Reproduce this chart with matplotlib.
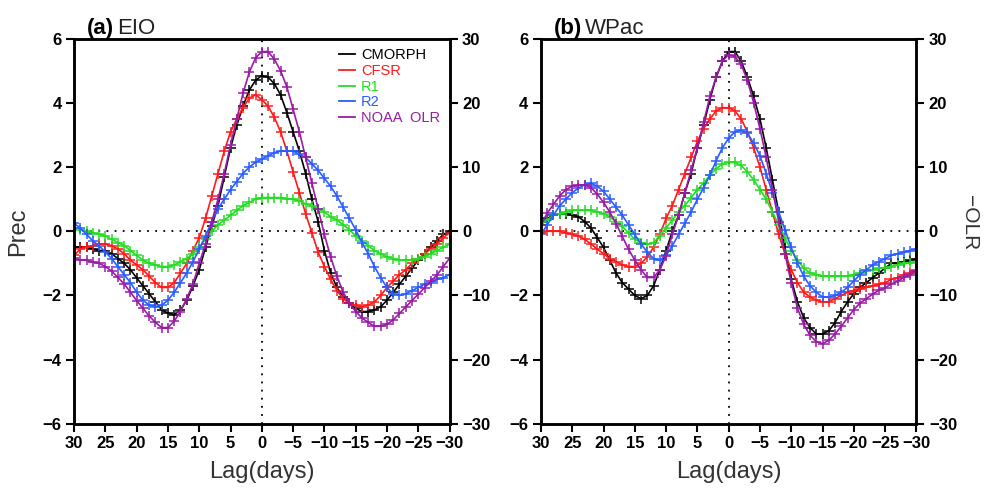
import matplotlib.pyplot as plt
from matplotlib.lines import Line2D
import numpy as np

# lag in days, 30 -> -30
lag = np.arange(30, -31, -1)

# ---- (a) EIO, precip (mm/day) ----
eio_cmorph = [-0.5, -0.5, -0.5, -0.55, -0.6, -0.6, -0.7, -0.85, -1.0, -1.2,
              -1.45, -1.7, -1.95, -2.2, -2.45, -2.55, -2.6, -2.45, -2.15, -1.7,
              -1.2, -0.5, 0.15, 0.8, 1.7, 2.6, 3.3, 3.9, 4.4, 4.7,
              4.85, 4.8, 4.6, 4.25, 3.7, 3.1, 2.5, 1.8, 1.0, 0.3,
              -0.6, -1.3, -1.75, -2.05, -2.25, -2.4, -2.5, -2.5, -2.45, -2.35,
              -2.15, -1.9, -1.65, -1.4, -1.15, -0.9, -0.7, -0.5, -0.3, -0.1, 0.0]
eio_cfsr = [-0.75, -0.55, -0.5, -0.45, -0.4, -0.4, -0.45, -0.55, -0.7, -0.9,
            -1.05, -1.2, -1.4, -1.6, -1.75, -1.75, -1.6, -1.3, -1.0, -0.6,
            -0.2, 0.4, 1.1, 1.8, 2.5, 3.1, 3.5, 3.85, 4.15, 4.25,
            4.1, 3.9, 3.55, 3.1, 2.5, 1.85, 1.2, 0.55, -0.05, -0.65,
            -1.1, -1.5, -1.85, -2.1, -2.25, -2.3, -2.35, -2.3, -2.2, -2.0,
            -1.75, -1.55, -1.35, -1.2, -1.0, -0.85, -0.7, -0.55, -0.4, -0.2, -0.05]
eio_r1 = [0.1, 0.05, 0.0, -0.05, -0.1, -0.15, -0.25, -0.35, -0.45, -0.6,
          -0.75, -0.9, -1.0, -1.05, -1.1, -1.1, -1.05, -0.95, -0.85, -0.7,
          -0.5, -0.25, 0.0, 0.2, 0.35, 0.5, 0.65, 0.8, 0.9, 1.0,
          1.05, 1.05, 1.05, 1.05, 1.0, 1.0, 0.95, 0.85, 0.8, 0.7,
          0.6, 0.45, 0.35, 0.2, 0.05, -0.15, -0.3, -0.45, -0.6, -0.7,
          -0.8, -0.85, -0.9, -0.9, -0.9, -0.85, -0.8, -0.7, -0.6, -0.5, -0.4]
eio_r2 = [0.25, 0.1, -0.1, -0.3, -0.45, -0.65, -0.85, -1.1, -1.35, -1.6,
          -1.9, -2.15, -2.3, -2.35, -2.3, -2.15, -1.9, -1.6, -1.3, -0.95,
          -0.55, -0.15, 0.3, 0.7, 1.0, 1.3, 1.55, 1.8, 2.0, 2.15,
          2.25, 2.35, 2.45, 2.5, 2.5, 2.5, 2.4, 2.3, 2.1, 1.9,
          1.65, 1.4, 1.1, 0.75, 0.4, 0.05, -0.35, -0.7, -1.1, -1.45,
          -1.75, -1.95, -2.0, -1.95, -1.85, -1.75, -1.65, -1.6, -1.5, -1.45, -1.35]
# -OLR (W/m2)
eio_olr = [-4.2, -4.5, -4.5, -4.8, -5.0, -5.5, -6.2, -7.2, -8.2, -9.5,
           -10.8, -12.0, -13.2, -14.2, -15.0, -15.0, -14.0, -12.5, -10.5, -8.2,
           -5.0, -2.0, 1.5, 5.0, 9.0, 13.5, 17.5, 21.5, 24.8, 27.0,
           28.0, 28.0, 26.8, 25.0, 22.5, 19.0, 15.5, 11.5, 7.5, 3.5,
           -0.5, -4.0, -7.0, -9.5, -11.2, -12.5, -13.5, -14.2, -14.8, -14.8,
           -14.5, -13.8, -12.8, -11.8, -10.8, -9.8, -8.8, -7.8, -6.8, -5.5, -4.2]

# ---- (b) WPac ----
wp_cmorph = [0.3, 0.4, 0.5, 0.55, 0.55, 0.5, 0.45, 0.3, 0.1, -0.2,
             -0.5, -0.9, -1.3, -1.6, -1.8, -2.0, -2.1, -2.0, -1.7, -1.2,
             -0.6, 0.0, 0.5, 1.2, 1.8, 2.6, 3.3, 4.1, 4.8, 5.3,
             5.6, 5.6, 5.3, 4.8, 4.2, 3.5, 2.6, 1.6, 0.6, -0.5,
             -1.5, -2.2, -2.7, -3.0, -3.2, -3.2, -3.1, -2.85, -2.5, -2.2,
             -1.95, -1.75, -1.6, -1.45, -1.3, -1.15, -1.0, -1.0, -0.95, -0.9, -0.85]
wp_cfsr = [-0.05, 0.0, 0.0, 0.0, -0.05, -0.1, -0.15, -0.25, -0.4, -0.55,
           -0.7, -0.85, -0.95, -1.05, -1.1, -1.1, -1.0, -0.8, -0.5, -0.1,
           0.4, 0.8, 1.3, 1.8, 2.3, 2.8, 3.2, 3.5, 3.75, 3.85,
           3.85, 3.75, 3.5, 3.1, 2.6, 2.0, 1.3, 0.6, -0.1, -0.7,
           -1.2, -1.6, -1.9, -2.05, -2.15, -2.2, -2.2, -2.1, -2.0, -1.9,
           -1.85, -1.8, -1.75, -1.7, -1.65, -1.6, -1.5, -1.45, -1.35, -1.3, -1.2]
wp_r1 = [0.2, 0.35, 0.5, 0.55, 0.6, 0.65, 0.65, 0.65, 0.65, 0.6,
         0.55, 0.45, 0.3, 0.15, -0.05, -0.25, -0.35, -0.4, -0.35, -0.15,
         0.1, 0.35, 0.6, 0.8, 1.05, 1.3, 1.5, 1.75, 1.95, 2.1,
         2.15, 2.15, 2.05, 1.85, 1.6, 1.3, 1.0, 0.6, 0.2, -0.2,
         -0.6, -0.9, -1.15, -1.3, -1.35, -1.4, -1.4, -1.4, -1.4, -1.4,
         -1.35, -1.3, -1.25, -1.2, -1.15, -1.15, -1.1, -1.05, -1.0, -1.0, -0.95]
wp_r2 = [-0.1, 0.2, 0.5, 0.8, 1.0, 1.2, 1.35, 1.45, 1.5, 1.4,
         1.25, 1.0, 0.75, 0.5, 0.2, -0.1, -0.4, -0.65, -0.85, -0.9,
         -0.75, -0.45, -0.1, 0.25, 0.6, 1.0, 1.35, 1.75, 2.2, 2.6,
         2.9, 3.1, 3.15, 3.05, 2.75, 2.35, 1.8, 1.2, 0.6, 0.05,
         -0.5, -1.0, -1.4, -1.7, -1.9, -2.05, -2.05, -2.0, -1.9, -1.75,
         -1.55, -1.35, -1.2, -1.05, -0.95, -0.85, -0.75, -0.7, -0.65, -0.6, -0.55]
wp_olr = [1.0, 2.8, 4.2, 5.5, 6.5, 7.0, 7.2, 7.2, 6.8, 5.8,
          4.5, 3.0, 1.2, -0.8, -2.8, -4.5, -6.0, -7.2, -7.2, -6.0,
          -3.8, -0.5, 2.5, 6.0, 9.5, 13.0, 17.0, 21.0, 24.0, 26.5,
          27.5, 27.2, 26.0, 23.5, 20.0, 16.0, 11.5, 6.5, 1.5, -3.5,
          -8.0, -12.0, -14.5, -16.2, -17.2, -17.5, -17.0, -16.0, -14.8, -13.5,
          -12.2, -11.2, -10.5, -9.8, -9.2, -8.8, -8.2, -7.8, -7.2, -6.8, -6.2]

names = ["CMORPH", "CFSR", "R1", "R2", "NOAA  OLR"]
colors = ["black", "#ff1a1a", "#22dd22", "#2a5cff", "#9a1aa8"]

panels = [("(a)", "EIO", [eio_cmorph, eio_cfsr, eio_r1, eio_r2], eio_olr),
          ("(b)", "WPac", [wp_cmorph, wp_cfsr, wp_r1, wp_r2], wp_olr)]

plt.rcParams['font.family'] = ['Liberation Sans', 'DejaVu Sans']
fig = plt.figure(figsize=(9.88, 4.9), dpi=100)
lefts = [0.075, 0.5475]
lab_col = '#333333'

for k, (tag, region, precs, olr) in enumerate(panels):
    ax = fig.add_axes([lefts[k], 0.135, 0.38, 0.786])
    ax2 = ax.twinx()
    for i in range(4):
        ax.plot(lag, precs[i], color=colors[i], lw=1.2, marker='+',
                ms=7.5, mew=1.1)
    ax2.plot(lag, olr, color=colors[4], lw=1.2, marker='+', ms=7.5, mew=1.1)

    ax.axhline(0, color='black', ls=(0, (1, 3.5)), lw=1.3, zorder=0)
    ax.axvline(0, color='black', ls=(0, (1, 3.5)), lw=1.3, zorder=0)

    ax.set_xlim(30, -30)
    ax.set_ylim(-6, 6)
    ax2.set_ylim(-30, 30)
    ax.set_xticks(np.arange(30, -31, -5))
    ax.set_yticks(np.arange(-6, 7, 2))
    ax2.set_yticks(np.arange(-30, 31, 10))
    for a in (ax, ax2):
        a.tick_params(direction='out', length=6, width=1.5, labelsize=12, pad=3)
        for lab in a.get_xticklabels() + a.get_yticklabels():
            lab.set_fontweight('bold')
        for s in a.spines.values():
            s.set_linewidth(1.8)

    ax.set_xlabel("Lag(days)", fontsize=17, color=lab_col, labelpad=7)
    if k == 0:
        ax.set_ylabel("Prec", fontsize=17, color=lab_col, labelpad=10)
        handles = [Line2D([], [], color=c, lw=1.3) for c in colors]
        leg = ax.legend(handles, names, loc='upper right', frameon=False,
                        fontsize=10.5, handlelength=1.1, handletextpad=0.4,
                        labelspacing=0.12, borderaxespad=0.25,
                        bbox_to_anchor=(1.0, 1.0))
        for t, c in zip(leg.get_texts(), colors):
            t.set_color(c)

    t = ax.text(0.035, 1.012, tag, transform=ax.transAxes, fontsize=16,
                fontweight='bold', ha='left', va='baseline')
    ax.annotate(region, xy=(1, 0), xycoords=t, xytext=(2, 0),
                textcoords='offset points', fontsize=16, color='#222222',
                ha='left', va='bottom')

fig.text(0.981, 0.545, "\u2212OLR", fontsize=15, color=lab_col,
         rotation=270, ha='center', va='center')

fig.savefig("out.png", dpi=100)
